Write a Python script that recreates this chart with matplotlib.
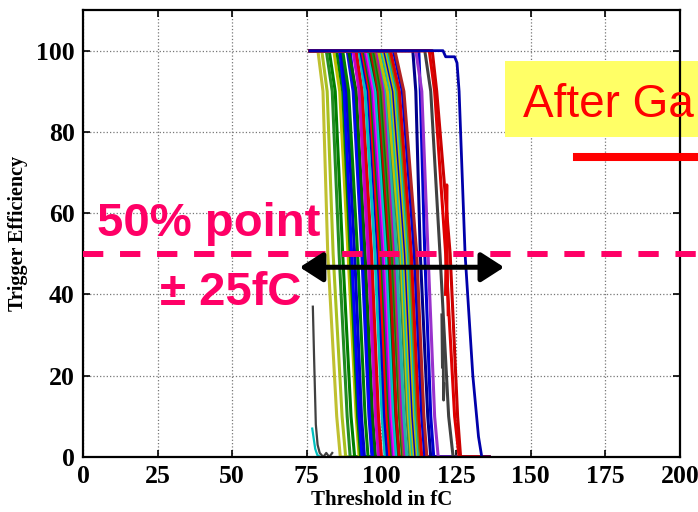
import matplotlib
matplotlib.use('Agg')
import matplotlib.pyplot as plt
from matplotlib.patches import Rectangle, FancyArrowPatch
from matplotlib.lines import Line2D

eff_levels = [100, 100, 90, 50, 10, 0, 0]
thr_start = 76.0
thr_stop = 136.0

# threshold (fC) where each channel crosses 100%, 90%, 50%, 10%, 0%
thr_100 = [78.7, 80.0, 81.5, 82.5, 84.0, 85.0, 86.0, 86.5, 87.0, 88.5, 89.5, 89.0,
           90.5, 91.0, 91.5, 92.5, 93.0, 93.5, 94.0, 94.5, 95.0, 95.5, 96.0, 96.0,
           96.5, 97.0, 97.5, 98.0, 98.5, 99.0, 99.5, 99.0, 100.0, 100.5, 101.0, 101.5,
           102.0, 102.5, 103.0, 104.0, 104.5, 110.5, 112.5, 111.5, 114.5, 116.0, 117.0]
thr_90 = [80.4, 81.8, 83.5, 84.5, 86.0, 87.0, 87.5, 88.3, 89.0, 90.5, 91.0, 91.5,
          92.5, 93.0, 93.5, 94.5, 95.5, 96.0, 96.5, 97.0, 97.5, 98.0, 98.5, 98.8,
          99.0, 99.5, 100.0, 100.5, 101.0, 101.5, 102.0, 102.0, 103.0, 103.5, 104.0, 104.5,
          105.0, 105.5, 106.0, 107.0, 107.5, 111.5, 113.0, 113.5, 116.5, 117.8, 118.5]
thr_50 = [82.0, 83.8, 85.8, 87.0, 88.8, 89.5, 90.0, 91.0, 92.0, 93.4, 93.8, 94.5,
          95.5, 96.0, 96.7, 97.8, 98.8, 99.3, 100.0, 100.5, 101.2, 101.6, 102.0, 102.4,
          102.8, 103.5, 103.8, 104.2, 104.6, 105.0, 106.0, 106.5, 107.0, 107.5, 108.0, 108.5,
          109.0, 109.5, 110.0, 111.0, 111.8, 113.0, 114.5, 115.6, 119.6, 121.5, 123.0]
thr_10 = [85.0, 86.8, 88.5, 89.8, 91.5, 92.0, 92.5, 93.3, 94.5, 95.8, 96.2, 97.0,
          98.0, 98.5, 99.0, 100.2, 101.0, 101.8, 102.5, 103.0, 103.5, 104.0, 104.5, 104.8,
          105.0, 106.0, 106.2, 106.5, 107.0, 107.5, 108.5, 109.0, 109.5, 110.0, 110.5, 111.0,
          111.5, 112.0, 112.5, 113.5, 114.2, 115.5, 116.5, 117.8, 122.5, 124.5, 125.5]
thr_0 = [86.2, 88.0, 89.5, 91.0, 92.5, 93.0, 93.5, 94.3, 95.5, 96.8, 97.2, 98.0,
         99.0, 99.5, 100.0, 101.2, 102.0, 102.8, 103.5, 104.0, 104.5, 105.0, 105.5, 105.8,
         106.0, 107.0, 107.2, 107.5, 108.0, 108.5, 109.5, 110.0, 110.5, 111.0, 111.5, 112.0,
         112.5, 113.0, 113.5, 114.5, 115.2, 116.5, 117.5, 119.0, 124.0, 126.0, 126.5]
curve_colors = ['#c0c030', '#a8c020', '#228b22', '#007f00', '#bfbf00', '#008000', '#0000ff',
                '#0000cc', '#008000', '#1010dd', '#0000ff', '#006400', '#cc00cc', '#bf00bf',
                '#e00000', '#00bfbf', '#0000cc', '#ff0000', '#007f00', '#9400d3', '#ff00ff',
                '#00bfbf', '#00ced1', '#006400', '#cc0000', '#228b22', '#007f00', '#a0522d',
                '#bf00bf', '#20b2aa', '#2e8b57', '#c0c000', '#00bfbf', '#bfbf00', '#0000cc',
                '#bfbf00', '#00bfbf', '#808000', '#e00000', '#0000cc', '#b22222', '#00008b',
                '#0000cc', '#9932cc', '#404040', '#e00000', '#cc0000']

# odd channels
dip_blue_x = [76, 120.6, 121.5, 124.5, 125.3, 126.0, 128.0, 130.6, 132.5, 133.6, 136]
dip_blue_y = [100, 100, 98.5, 98.5, 97, 90, 50, 20, 5, 0, 0]
stub_gray_x = [77.0, 77.4, 78.0, 78.6, 79.3, 80.5, 81.5, 82.5, 83.5]
stub_gray_y = [37, 25, 8, 3, 1, 0, 1, 0, 1]
stub_cyan_x = [76.8, 77.2, 77.8, 78.5, 79.5]
stub_cyan_y = [7, 5, 2, 0.5, 0]
spike_red_x = [121.4, 121.7, 121.9, 122.1, 122.3]
spike_red_y = [40, 55, 67, 45, 35]
noise_gray_x = [120.2, 120.4, 120.6, 120.8, 121.0]
noise_gray_y = [35, 22, 30, 14, 18]

x_ticks = [0, 25, 50, 75, 100, 125, 150, 175, 200]
y_ticks = [0, 20, 40, 60, 80, 100]

pink = '#ff0066'
serif = 'Liberation Serif'
sans = 'Liberation Sans'

fig = plt.figure(figsize=(6.98, 5.12), dpi=100)
ax = fig.add_axes([0.1189, 0.1074, 0.8553, 0.873])

for i in range(len(thr_50)):
    xs = [thr_start, thr_100[i], thr_90[i], thr_50[i], thr_10[i], thr_0[i], thr_stop]
    ax.plot(xs, eff_levels, color=curve_colors[i], linewidth=2.2, solid_joinstyle='round')

ax.plot(dip_blue_x, dip_blue_y, color='#0000aa', linewidth=2.0)
ax.plot(stub_gray_x, stub_gray_y, color='#404040', linewidth=1.6)
ax.plot(stub_cyan_x, stub_cyan_y, color='#00bfbf', linewidth=1.6)
ax.plot(spike_red_x, spike_red_y, color='#e00000', linewidth=2.0)
ax.plot(noise_gray_x, noise_gray_y, color='#404040', linewidth=2.0)

ax.set_xlim(0, 200)
ax.set_ylim(0, 110)
ax.set_xticks(x_ticks)
ax.set_yticks(y_ticks)
ax.grid(True, linestyle=':', color='#777777', linewidth=0.9)
ax.tick_params(direction='in', top=True, right=True, length=5, width=1.2, pad=6)
for lab in ax.get_xticklabels() + ax.get_yticklabels():
    lab.set_fontfamily(serif)
    lab.set_fontweight('bold')
    lab.set_fontsize(18.5)
for sp in ax.spines.values():
    sp.set_linewidth(1.6)
ax.set_xlabel('Threshold in fC', fontfamily=serif, fontweight='bold', fontsize=15, labelpad=1)
ax.set_ylabel('Trigger Efficiency', fontfamily=serif, fontweight='bold', fontsize=14.5, labelpad=6)

# slide overlays
ax.plot([0, 207], [50, 50], color=pink, linewidth=4.3, linestyle=(0, (3.4, 2.8)),
        clip_on=False, zorder=4)
ax.text(4.7, 54.4, '50% point', color=pink, fontfamily=sans, fontweight='bold',
        fontsize=34, zorder=5)
ax.text(25.8, 37.3, '\u00b1 25fC', color=pink, fontfamily=sans, fontweight='bold',
        fontsize=34, zorder=5)
arrow = FancyArrowPatch((71.7, 46.7), (142, 46.7),
                        arrowstyle='<|-|>,head_length=0.7,head_width=0.45',
                        mutation_scale=20, color='black', linewidth=3.6, zorder=5)
ax.add_patch(arrow)

box = Rectangle((505 / 698, 1 - 137 / 512), 0.3, 76 / 512, transform=fig.transFigure,
                facecolor='#ffff66', edgecolor='none', clip_on=False, zorder=2.2)
ax.add_patch(box)
ax.text(523 / 698, 1 - 117 / 512, 'After Ga', transform=fig.transFigure, color='#ff0000',
        fontfamily=sans, fontsize=33, zorder=6)
ax.add_line(Line2D([577 / 698, 1.0], [1 - 157 / 512, 1 - 157 / 512], transform=fig.transFigure,
                   color='#ff0000', linewidth=5.8, clip_on=False, zorder=6))

fig.savefig('out.png', dpi=100)
